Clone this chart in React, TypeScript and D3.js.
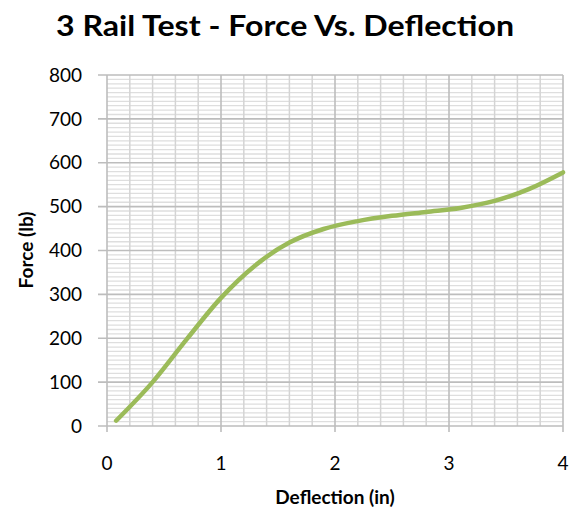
import * as d3 from 'd3';

// Deflection (in) vs force (lb)
const deflection = [0.08, 0.4, 0.7, 1.0, 1.3, 1.6, 1.9, 2.2, 2.5, 2.8, 3.1, 3.4, 3.7, 4.0];
const force = [12, 100, 198, 292, 366, 418, 449, 467, 479, 488, 497, 513, 540, 578];

const xTicks = [0, 1, 2, 3, 4];
const yTicks = [0, 100, 200, 300, 400, 500, 600, 700, 800];

const title = '3 Rail Test - Force Vs. Deflection';
const xTitle = 'Deflection (in)';
const yTitle = 'Force (lb)';

const W = 575;
const H = 513;
const margin = { top: 75, right: 12, bottom: 87, left: 107 };
const font = 'Lato, "Open Sans", sans-serif';

const App = () => {
    const x = d3.scaleLinear().domain([0, 4]).range([margin.left, W - margin.right]);
    const y = d3.scaleLinear().domain([0, 800]).range([H - margin.bottom, margin.top]);

    const pts = deflection.map((d, i) => ({ d, f: force[i] }));
    const line = d3.line<{ d: number; f: number }>()
        .x(p => x(p.d))
        .y(p => y(p.f))
        .curve(d3.curveMonotoneX);

    const [x0, x1] = x.range();
    const [y0, y1] = y.range();

    return (
        <div style={{ position: 'absolute', left: 0, top: 0 }}>
            <svg width={W} height={H} style={{ display: 'block', background: '#fff' }}>
                <text x={285} y={36} textAnchor="middle" fontFamily={font} fontWeight="bold"
                    fontSize={28} fill="#000" textLength={458} lengthAdjust="spacingAndGlyphs">
                    {title}
                </text>

                {/* minor horizontal grid, every 10 lb */}
                {y.ticks(80).filter(t => t % 100 !== 0).map(t => (
                    <line key={'hm' + t} x1={x0} x2={x1} y1={y(t)} y2={y(t)} stroke="#dedede" strokeWidth={1.3} />
                ))}
                {/* minor vertical grid, every 0.2 in */}
                {x.ticks(20).filter(t => Math.abs(t - Math.round(t)) > 1e-6).map(t => (
                    <line key={'vm' + t} x1={x(t)} x2={x(t)} y1={y0} y2={y1} stroke="#d4d4d4" strokeWidth={1.5} />
                ))}
                {/* major grid */}
                {yTicks.map(t => (
                    <line key={'hM' + t} x1={x0 - 9} x2={x1} y1={y(t)} y2={y(t)} stroke="#bdbdbd" strokeWidth={1.6} />
                ))}
                {xTicks.map(t => (
                    <line key={'vM' + t} x1={x(t)} x2={x(t)} y1={y0 + 6} y2={y1} stroke="#bdbdbd" strokeWidth={1.6} />
                ))}

                <path d={line(pts) ?? ''} fill="none" stroke="#9bbb59" strokeWidth={4.5} strokeLinecap="round" />

                {yTicks.map(t => (
                    <text key={'yl' + t} x={82} y={y(t)} dy="0.35em" textAnchor="end"
                        fontFamily={font} fontSize={19} fill="#000">{t}</text>
                ))}
                {xTicks.map(t => (
                    <text key={'xl' + t} x={x(t)} y={470} textAnchor="middle"
                        fontFamily={font} fontSize={19} fill="#000">{t}</text>
                ))}

                <text x={335} y={504} textAnchor="middle" fontFamily={font} fontWeight="bold"
                    fontSize={19} fill="#000">{xTitle}</text>
                <text transform="translate(33,250) rotate(-90)" textAnchor="middle" fontFamily={font}
                    fontWeight="bold" fontSize={19} fill="#000">{yTitle}</text>
            </svg>
        </div>
    );
};

export default App;
